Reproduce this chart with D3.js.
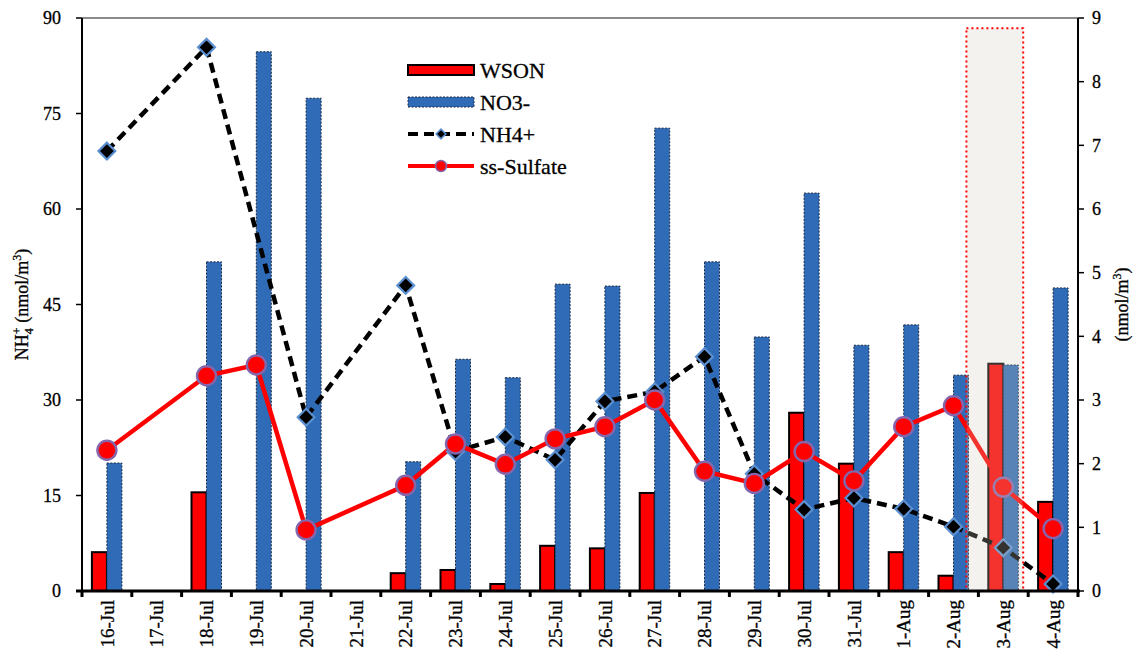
<!DOCTYPE html>
<html>
<head>
<meta charset="utf-8">
<script src="https://cdn.jsdelivr.net/npm/d3@7"></script>
<style>
  html, body { margin: 0; padding: 0; background: #fff; }
  svg { display: block; }
  text { font-family: "Liberation Serif", "Times New Roman", serif; fill: #000; stroke: #000; stroke-width: 0.3; }
</style>
</head>
<body>
<svg id="chart" width="1146" height="664"></svg>
<script>
// Sampling days
const categories = ["16-Jul","17-Jul","18-Jul","19-Jul","20-Jul","21-Jul","22-Jul","23-Jul","24-Jul","25-Jul",
  "26-Jul","27-Jul","28-Jul","29-Jul","30-Jul","31-Jul","1-Aug","2-Aug","3-Aug","4-Aug"];

// Bar series (left axis, nmol/m3)
const wson = [6.1, 0, 15.5, 0, 0, 0, 2.8, 3.3, 1.1, 7.1, 6.7, 15.4, 0, 0, 28.0, 20.0, 6.1, 2.4, 35.7, 14.0];
const no3  = [20.1, 0, 51.7, 84.7, 77.4, 0, 20.3, 36.4, 33.5, 48.2, 47.9, 72.7, 51.7, 39.9, 62.5, 38.6, 41.8, 33.9, 35.5, 47.6];

// Line series: NH4+ on the left axis, ss-Sulfate on the right axis (null = not sampled)
const nh4 = [69.1, null, 85.4, null, 27.3, null, 48.0, 21.9, 24.2, 20.6, 29.8, 31.3, 36.8, 18.4, 12.8, 14.6, 12.9, 10.1, 6.8, 1.1];
const ssSulfate = [2.21, null, 3.38, 3.55, 0.96, null, 1.66, 2.31, 1.99, 2.39, 2.58, 3.00, 1.88, 1.69, 2.19, 1.73, 2.58, 2.91, 1.63, 0.98];

// Axis ticks
const leftTicks = [0, 15, 30, 45, 60, 75, 90];
const rightTicks = [0, 1, 2, 3, 4, 5, 6, 7, 8, 9];

// Highlighted sampling day
const highlightDay = "3-Aug";

const svg = d3.select("#chart");
const L = 82, R = 1078, T = 18, B = 591;

const x = d3.scaleBand().domain(categories).range([L, R]).padding(0);
const xs = d3.scaleBand().domain(["WSON", "NO3-"]).range([-15, 15]).padding(0);
const yL = d3.scaleLinear().domain([0, 90]).range([B, T]);
const yR = d3.scaleLinear().domain([0, 9]).range([B, T]);
const cx = c => x(c) + x.bandwidth() / 2;

const RED = "#ff0000", BLUE = "#2f6bb6";

// defs: soft halo on the circle markers
const defs = svg.append("defs");
defs.append("filter").attr("id", "soft").attr("x", "-50%").attr("y", "-50%").attr("width", "200%").attr("height", "200%")
  .append("feGaussianBlur").attr("stdDeviation", 0.6);

// top frame line
svg.append("line").attr("x1", L).attr("x2", R).attr("y1", T).attr("y2", T)
  .attr("stroke", "#666").attr("stroke-width", 1.5);

// bars
const g = svg.append("g");
categories.forEach((c, i) => {
  if (wson[i] > 0) {
    g.append("rect")
      .attr("x", cx(c) + xs("WSON")).attr("width", xs.bandwidth())
      .attr("y", yL(wson[i])).attr("height", B - yL(wson[i]))
      .attr("fill", RED).attr("stroke", "#000").attr("stroke-width", 2);
  }
  if (no3[i] > 0) {
    g.append("rect")
      .attr("x", cx(c) + xs("NO3-")).attr("width", xs.bandwidth())
      .attr("y", yL(no3[i])).attr("height", B - yL(no3[i]))
      .attr("fill", BLUE).attr("stroke", "#1b2a44").attr("stroke-width", 1)
      .attr("stroke-dasharray", "2,1.5");
  }
});

// NH4+ dashed line with diamonds
const nh4Pts = categories.map((c, i) => ({ c, v: nh4[i] })).filter(d => d.v !== null);
svg.append("path").datum(nh4Pts)
  .attr("d", d3.line().x(d => cx(d.c)).y(d => yL(d.v)))
  .attr("fill", "none").attr("stroke", "#000").attr("stroke-width", 4.5)
  .attr("stroke-dasharray", "10,6");

// ss-Sulfate line
const ssPts = categories.map((c, i) => ({ c, v: ssSulfate[i] })).filter(d => d.v !== null);
svg.append("path").datum(ssPts)
  .attr("d", d3.line().x(d => cx(d.c)).y(d => yR(d.v)))
  .attr("fill", "none").attr("stroke", RED).attr("stroke-width", 4.5);

const diamond = d3.symbol().type(d3.symbolDiamond2).size(180);
svg.append("g").selectAll("path").data(nh4Pts).join("path")
  .attr("d", diamond)
  .attr("transform", d => `translate(${cx(d.c)},${yL(d.v)})`)
  .attr("fill", "#000").attr("stroke", "#5b8fcf").attr("stroke-width", 2.2);

svg.append("g").selectAll("circle").data(ssPts).join("circle")
  .attr("cx", d => cx(d.c)).attr("cy", d => yR(d.v)).attr("r", 9.5)
  .attr("fill", RED).attr("stroke", "#8466ad").attr("stroke-width", 2.4)
  .attr("filter", "url(#soft)");

// highlighted day overlay
const hx0 = x(highlightDay) - 12, hx1 = x(highlightDay) + x.bandwidth() - 5;
svg.append("rect")
  .attr("x", hx0).attr("y", yL(88.4)).attr("width", hx1 - hx0).attr("height", B - yL(88.4))
  .attr("fill", "rgb(211,203,187)").attr("fill-opacity", 0.25)
  .attr("stroke", RED).attr("stroke-width", 2).attr("stroke-dasharray", "2,3");

// axes
const ax = svg.append("g");
ax.append("line").attr("x1", L).attr("x2", L).attr("y1", T).attr("y2", B + 1).attr("stroke", "#000").attr("stroke-width", 2);
ax.append("line").attr("x1", R).attr("x2", R).attr("y1", T).attr("y2", B + 1).attr("stroke", "#000").attr("stroke-width", 2);
ax.append("line").attr("x1", L - 6).attr("x2", R + 2).attr("y1", B).attr("y2", B).attr("stroke", "#000").attr("stroke-width", 3);

leftTicks.forEach(t => {
  ax.append("line").attr("x1", L - 6).attr("x2", L).attr("y1", yL(t)).attr("y2", yL(t)).attr("stroke", "#000").attr("stroke-width", 1.5);
  ax.append("text").attr("x", L - 21).attr("y", yL(t)).attr("dy", "0.35em")
    .attr("text-anchor", "end").attr("font-size", 18).text(t);
});
rightTicks.forEach(t => {
  ax.append("line").attr("x1", R).attr("x2", R + 6).attr("y1", yR(t)).attr("y2", yR(t)).attr("stroke", "#000").attr("stroke-width", 1.5);
  ax.append("text").attr("x", R + 14).attr("y", yR(t)).attr("dy", "0.35em")
    .attr("text-anchor", "start").attr("font-size", 18).text(t);
});

// category boundary ticks and rotated labels
d3.range(categories.length + 1).forEach(i => {
  const bx = L + i * x.step();
  ax.append("line").attr("x1", bx).attr("x2", bx).attr("y1", B).attr("y2", B + 6).attr("stroke", "#000").attr("stroke-width", 3);
});
categories.forEach(c => {
  ax.append("text")
    .attr("transform", `translate(${cx(c)},${B + 9}) rotate(-90)`)
    .attr("dy", "0.35em").attr("text-anchor", "end").attr("font-size", 19).text(c);
});

// axis titles
const yl = svg.append("text").attr("transform", `translate(28,${(T + B) / 2}) rotate(-90)`)
  .attr("text-anchor", "middle").attr("font-size", 18);
yl.append("tspan").text("NH");
yl.append("tspan").attr("font-size", 12).attr("dy", 5).text("4");
yl.append("tspan").attr("font-size", 12).attr("dy", -12).attr("dx", -6).text("+");
yl.append("tspan").attr("dy", 7).text(" (nmol/m");
yl.append("tspan").attr("font-size", 12).attr("dy", -7).text("3");
yl.append("tspan").attr("dy", 7).text(")");

const yr = svg.append("text").attr("transform", `translate(1128,${(T + B) / 2}) rotate(-90)`)
  .attr("text-anchor", "middle").attr("font-size", 18);
yr.append("tspan").text("(nmol/m");
yr.append("tspan").attr("font-size", 12).attr("dy", -7).text("3");
yr.append("tspan").attr("dy", 7).text(")");

// legend
const lg = svg.append("g").attr("transform", "translate(408,0)");
const legendRows = [
  { name: "WSON", y: 70, kind: "rect", fill: RED },
  { name: "NO3-", y: 102, kind: "rect", fill: BLUE },
  { name: "NH4+", y: 134, kind: "nh4" },
  { name: "ss-Sulfate", y: 166, kind: "ss" }
];
legendRows.forEach(r => {
  if (r.kind === "rect") {
    const rc = lg.append("rect").attr("x", 0).attr("y", r.y - 5).attr("width", 66).attr("height", 10).attr("fill", r.fill);
    if (r.name === "WSON") rc.attr("stroke", "#000").attr("stroke-width", 2);
    else rc.attr("stroke", "#1b2a44").attr("stroke-width", 1).attr("stroke-dasharray", "2,1.5");
  } else if (r.kind === "nh4") {
    lg.append("line").attr("x1", 0).attr("x2", 66).attr("y1", r.y).attr("y2", r.y)
      .attr("stroke", "#000").attr("stroke-width", 4).attr("stroke-dasharray", "10,6");
    lg.append("path").attr("d", d3.symbol().type(d3.symbolDiamond2).size(60)())
      .attr("transform", `translate(33,${r.y})`).attr("fill", "#000").attr("stroke", "#5b8fcf").attr("stroke-width", 1.5);
  } else {
    lg.append("line").attr("x1", 0).attr("x2", 66).attr("y1", r.y).attr("y2", r.y)
      .attr("stroke", RED).attr("stroke-width", 4);
    lg.append("circle").attr("cx", 33).attr("cy", r.y).attr("r", 5.5)
      .attr("fill", RED).attr("stroke", "#8466ad").attr("stroke-width", 1.5);
  }
  lg.append("text").attr("x", 72).attr("y", r.y).attr("dy", "0.35em").attr("font-size", 22).text(r.name);
});
</script>
</body>
</html>
